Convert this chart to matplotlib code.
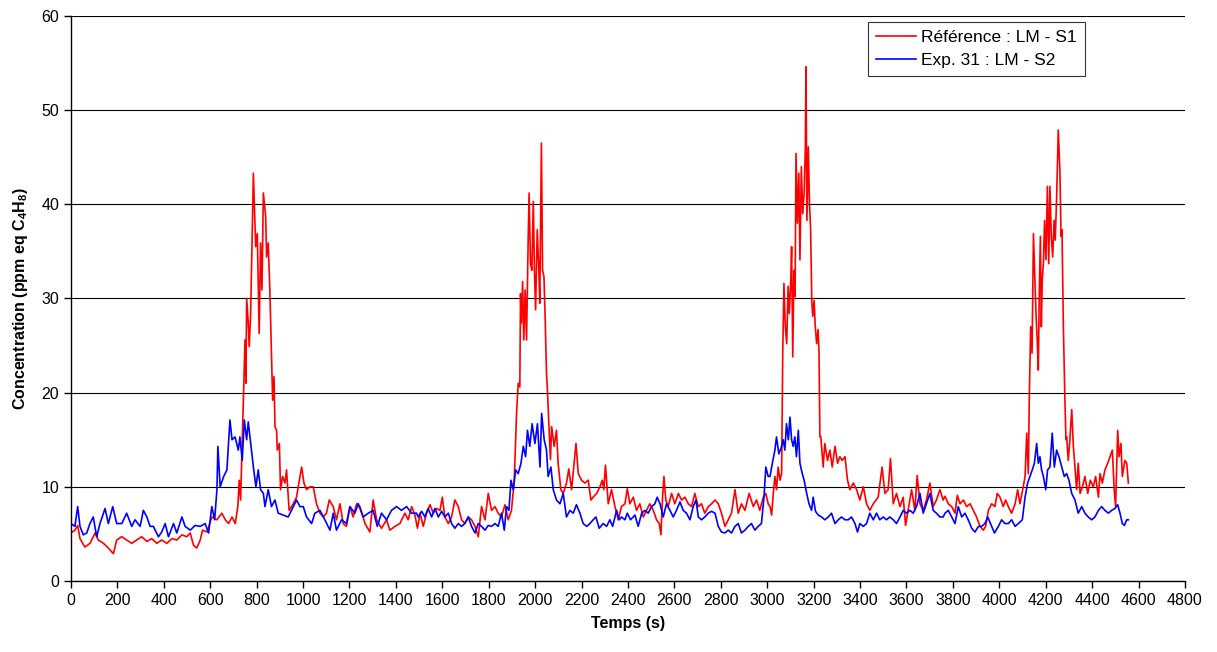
import matplotlib
matplotlib.use("Agg")
import matplotlib.pyplot as plt
import numpy as np

plt.rcParams['font.family'] = ['Liberation Sans', 'DejaVu Sans']
plt.rcParams['mathtext.fontset'] = 'custom'
plt.rcParams['mathtext.bf'] = 'Liberation Sans:bold'
plt.rcParams['mathtext.rm'] = 'Liberation Sans:bold'
plt.rcParams['mathtext.default'] = 'bf'

# Référence : LM - S1 (red), time in s / concentration
red_t = [0, 17, 29, 39, 60, 82, 104, 118, 140, 161, 183, 197, 219, 240, 262, 283, 305, 327, 348, 370,
         391, 413, 435, 456, 478, 499, 514, 528, 542, 557, 567, 586, 607, 629, 650, 665, 679, 694, 708, 719,
         725, 731, 743, 750, 754, 757, 764, 768, 774, 780, 786, 796, 803, 811, 817, 823, 829, 839, 843, 850,
         857, 865, 869, 875, 879, 886, 889, 898, 903, 912, 922, 929, 940, 958, 972, 984, 994, 1004, 1015, 1030,
         1044, 1058, 1073, 1087, 1101, 1113, 1130, 1144, 1159, 1173, 1187, 1202, 1216, 1231, 1245, 1267, 1288, 1302, 1317, 1338,
         1360, 1374, 1396, 1417, 1439, 1453, 1468, 1482, 1493, 1504, 1518, 1532, 1547, 1561, 1575, 1590, 1600, 1611, 1626, 1640,
         1654, 1669, 1683, 1697, 1712, 1726, 1741, 1755, 1769, 1784, 1798, 1812, 1827, 1841, 1855, 1870, 1884, 1898, 1910, 1920,
         1927, 1934, 1937, 1941, 1946, 1951, 1957, 1963, 1970, 1974, 1980, 1986, 1992, 1997, 2002, 2009, 2015, 2020, 2027, 2032,
         2038, 2043, 2049, 2053, 2059, 2066, 2071, 2082, 2092, 2099, 2111, 2121, 2135, 2145, 2157, 2168, 2176, 2186, 2200, 2214,
         2229, 2240, 2250, 2265, 2279, 2289, 2296, 2303, 2315, 2329, 2344, 2358, 2372, 2387, 2397, 2408, 2423, 2437, 2451, 2466,
         2480, 2494, 2509, 2523, 2535, 2542, 2549, 2555, 2563, 2573, 2588, 2602, 2617, 2631, 2645, 2660, 2674, 2688, 2703, 2717,
         2731, 2746, 2760, 2775, 2789, 2803, 2818, 2832, 2846, 2861, 2875, 2889, 2904, 2922, 2940, 2954, 2968, 2983, 2994, 3004,
         3012, 3019, 3026, 3033, 3040, 3047, 3055, 3062, 3067, 3072, 3078, 3084, 3090, 3095, 3101, 3105, 3110, 3115, 3120, 3124,
         3130, 3136, 3141, 3147, 3153, 3159, 3164, 3167, 3171, 3177, 3182, 3187, 3192, 3196, 3202, 3207, 3213, 3219, 3223, 3227,
         3231, 3241, 3248, 3260, 3270, 3280, 3292, 3303, 3313, 3323, 3335, 3346, 3356, 3371, 3385, 3399, 3414, 3428, 3442, 3457,
         3478, 3495, 3507, 3521, 3531, 3543, 3557, 3572, 3586, 3596, 3607, 3622, 3636, 3646, 3658, 3672, 3686, 3701, 3715, 3729,
         3744, 3758, 3766, 3780, 3795, 3809, 3819, 3831, 3845, 3859, 3874, 3888, 3902, 3917, 3931, 3941, 3953, 3967, 3981, 3991,
         4003, 4017, 4027, 4039, 4053, 4068, 4079, 4089, 4103, 4111, 4118, 4125, 4129, 4135, 4141, 4147, 4152, 4158, 4164, 4168,
         4172, 4177, 4181, 4185, 4190, 4195, 4201, 4207, 4213, 4218, 4224, 4230, 4236, 4241, 4247, 4254, 4261, 4266, 4270, 4276,
         4282, 4287, 4290, 4297, 4304, 4312, 4319, 4326, 4333, 4340, 4348, 4358, 4369, 4381, 4392, 4405, 4415, 4427, 4434, 4444,
         4455, 4467, 4477, 4487, 4495, 4501, 4510, 4516, 4524, 4530, 4541, 4549, 4556]
red_v = [5.1, 5.4, 5.9, 4.5, 3.6, 4.0, 5.1, 4.35, 4.0, 3.5, 2.9, 4.35, 4.7, 4.35, 4.0, 4.35, 4.7, 4.2, 4.5, 4.0,
         4.35, 4.0, 4.5, 4.35, 4.9, 4.7, 5.1, 3.8, 3.5, 4.35, 5.4, 5.2, 6.8, 6.5, 7.2, 6.5, 6.1, 6.8, 6.1, 7.9,
         10.7, 8.6, 19.2, 25.6, 21.0, 30.0, 27.4, 24.9, 28.1, 35.9, 43.3, 35.5, 36.9, 26.3, 35.9, 30.9, 41.2, 38.7, 34.4, 35.9,
         30.9, 22.8, 19.2, 21.7, 16.4, 16.0, 13.9, 14.6, 9.7, 11.1, 10.4, 11.8, 7.5, 8.2, 8.9, 10.7, 12.1, 10.4, 9.7, 10.0,
         10.0, 8.2, 7.2, 6.8, 7.2, 8.6, 7.9, 6.5, 8.2, 6.1, 5.8, 7.9, 6.8, 8.2, 7.9, 6.1, 5.2, 8.6, 6.5, 5.6,
         6.5, 5.4, 5.8, 6.1, 7.2, 6.5, 7.9, 7.0, 5.6, 7.2, 5.8, 7.2, 8.1, 7.2, 7.7, 7.5, 8.9, 6.8, 6.1, 6.8,
         8.6, 7.9, 6.5, 6.1, 6.8, 6.5, 5.8, 4.7, 7.9, 6.5, 9.3, 7.5, 7.9, 7.2, 6.8, 8.1, 6.5, 7.5, 10.7, 17.8,
         21.0, 20.6, 30.5, 27.4, 31.8, 25.6, 30.9, 25.6, 36.2, 41.2, 33.7, 33.0, 40.3, 33.0, 28.8, 37.3, 33.7, 29.5, 46.5, 33.0,
         32.3, 28.1, 22.0, 20.3, 16.7, 12.9, 16.4, 14.3, 16.0, 12.5, 9.7, 9.3, 10.4, 11.9, 9.7, 12.5, 14.6, 11.4, 10.7, 10.4,
         10.7, 8.6, 8.9, 9.3, 10.0, 10.7, 9.7, 12.3, 8.2, 9.7, 7.9, 6.5, 7.9, 8.2, 9.8, 8.2, 8.9, 7.5, 8.2, 6.8,
         7.5, 8.2, 7.5, 6.5, 6.1, 4.9, 8.9, 11.1, 8.6, 7.9, 9.3, 8.2, 9.3, 8.6, 8.9, 8.2, 7.9, 9.3, 7.9, 8.2,
         7.2, 7.9, 8.2, 8.6, 8.2, 7.2, 5.8, 6.5, 7.2, 9.7, 7.2, 8.2, 7.5, 9.3, 7.9, 8.6, 7.5, 8.9, 9.3, 8.2,
         7.9, 7.0, 9.3, 11.1, 9.7, 12.1, 10.7, 11.4, 24.5, 31.6, 27.0, 25.2, 31.3, 28.4, 31.6, 35.5, 23.8, 33.0, 30.2, 45.4,
         38.0, 43.3, 34.1, 44.0, 39.0, 41.2, 45.8, 54.6, 38.3, 46.1, 40.1, 37.3, 29.8, 28.1, 29.8, 27.0, 25.2, 26.7, 24.5, 15.3,
         15.3, 12.1, 14.6, 12.8, 13.9, 12.1, 14.3, 12.5, 13.2, 12.8, 13.2, 10.7, 9.7, 10.4, 9.7, 8.6, 10.0, 8.2, 7.5, 8.2,
         8.9, 12.1, 9.3, 9.7, 13.0, 8.2, 9.3, 7.9, 8.9, 5.9, 7.5, 9.7, 7.5, 11.2, 8.2, 7.5, 8.6, 10.4, 7.9, 8.6,
         9.7, 8.6, 9.0, 8.2, 7.9, 7.2, 9.1, 8.2, 8.6, 7.9, 8.2, 7.5, 6.8, 5.8, 5.4, 5.8, 7.5, 8.2, 7.9, 9.3,
         8.9, 7.9, 8.6, 7.9, 7.2, 8.2, 9.7, 8.2, 10.0, 11.1, 15.7, 11.4, 19.2, 27.0, 24.2, 36.9, 33.0, 28.4, 25.2, 22.4,
         30.5, 36.6, 27.0, 32.0, 33.7, 38.3, 34.1, 41.9, 33.7, 41.9, 36.6, 34.4, 38.3, 36.2, 40.8, 47.9, 43.6, 36.6, 37.3, 27.0,
         19.9, 15.0, 15.3, 12.8, 15.0, 18.2, 14.3, 12.1, 9.7, 12.5, 9.3, 10.0, 11.1, 9.3, 10.7, 10.0, 11.1, 8.9, 11.4, 10.4,
         11.8, 12.5, 13.2, 13.9, 9.7, 7.9, 16.0, 13.2, 14.6, 11.1, 12.8, 12.5, 10.4]

# Exp. 31 : LM - S2 (blue)
blue_t = [0, 17, 29, 39, 53, 68, 82, 96, 111, 125, 147, 161, 180, 197, 219, 240, 262, 276, 298, 312,
          327, 341, 355, 377, 391, 406, 420, 442, 456, 478, 492, 514, 535, 557, 578, 593, 607, 619, 629, 633,
          643, 658, 672, 685, 694, 707, 721, 728, 738, 747, 757, 764, 776, 786, 797, 807, 817, 829, 836, 850,
          864, 879, 893, 915, 936, 958, 972, 987, 1001, 1015, 1037, 1051, 1073, 1094, 1116, 1130, 1144, 1166, 1187, 1202,
          1223, 1238, 1259, 1281, 1302, 1320, 1338, 1360, 1381, 1403, 1424, 1446, 1468, 1489, 1496, 1511, 1525, 1539, 1554, 1568,
          1583, 1597, 1611, 1626, 1640, 1654, 1669, 1683, 1697, 1712, 1726, 1741, 1755, 1769, 1784, 1798, 1812, 1827, 1841, 1855,
          1867, 1877, 1887, 1896, 1906, 1916, 1927, 1939, 1949, 1959, 1967, 1977, 1987, 1999, 2010, 2021, 2028, 2039, 2049, 2056,
          2068, 2078, 2092, 2107, 2121, 2135, 2150, 2164, 2178, 2193, 2207, 2222, 2236, 2250, 2262, 2276, 2293, 2308, 2322, 2334,
          2351, 2362, 2372, 2387, 2397, 2411, 2430, 2444, 2459, 2473, 2487, 2502, 2516, 2526, 2538, 2552, 2566, 2581, 2595, 2609,
          2624, 2638, 2652, 2667, 2681, 2693, 2703, 2717, 2731, 2746, 2760, 2775, 2789, 2803, 2818, 2832, 2846, 2861, 2875, 2889,
          2904, 2918, 2932, 2947, 2961, 2975, 2986, 2994, 3004, 3012, 3022, 3033, 3040, 3050, 3062, 3069, 3076, 3083, 3091, 3098,
          3105, 3112, 3119, 3126, 3134, 3141, 3151, 3159, 3170, 3180, 3191, 3198, 3208, 3220, 3234, 3248, 3263, 3277, 3292, 3306,
          3320, 3335, 3349, 3363, 3378, 3389, 3399, 3414, 3428, 3442, 3457, 3471, 3485, 3500, 3514, 3528, 3543, 3557, 3572, 3586,
          3600, 3615, 3629, 3643, 3658, 3672, 3686, 3701, 3715, 3729, 3744, 3758, 3766, 3780, 3795, 3809, 3823, 3838, 3852, 3866,
          3881, 3895, 3910, 3924, 3938, 3950, 3967, 3979, 3996, 4010, 4024, 4039, 4053, 4068, 4082, 4099, 4111, 4122, 4132, 4142,
          4151, 4161, 4168, 4175, 4182, 4190, 4200, 4208, 4218, 4228, 4237, 4247, 4257, 4269, 4280, 4290, 4300, 4312, 4326, 4340,
          4355, 4369, 4383, 4398, 4412, 4427, 4441, 4455, 4470, 4484, 4498, 4510, 4520, 4530, 4539, 4549, 4556]
blue_v = [6.1, 5.8, 7.9, 5.8, 4.9, 5.1, 6.1, 6.8, 4.7, 6.1, 7.7, 6.1, 7.9, 6.1, 6.1, 7.2, 5.8, 6.5, 5.8, 7.5,
          6.8, 5.8, 5.8, 4.7, 5.2, 6.1, 4.7, 6.1, 5.1, 6.8, 5.8, 5.4, 5.9, 5.8, 6.1, 5.1, 7.9, 6.5, 9.7, 14.3,
          10.0, 11.1, 11.8, 17.1, 15.0, 15.3, 13.9, 15.3, 12.8, 17.1, 15.0, 16.9, 14.3, 12.1, 10.0, 11.8, 9.7, 9.3, 7.9, 9.7,
          7.9, 8.6, 7.2, 7.0, 6.8, 7.9, 8.6, 7.9, 7.9, 6.8, 6.1, 7.2, 7.5, 6.5, 5.4, 7.2, 5.4, 6.5, 6.1, 7.9,
          7.2, 8.2, 6.8, 7.2, 7.5, 5.8, 7.2, 6.5, 7.5, 7.9, 7.5, 7.9, 7.2, 7.2, 6.8, 7.4, 6.8, 7.7, 6.8, 7.7,
          6.8, 7.4, 6.8, 7.2, 6.1, 5.6, 6.1, 5.8, 6.1, 6.8, 5.8, 5.1, 6.1, 5.8, 5.4, 5.9, 5.8, 6.1, 5.8, 7.2,
          5.4, 7.9, 7.5, 10.7, 9.7, 11.8, 11.4, 12.5, 14.3, 13.2, 16.0, 14.3, 16.7, 14.6, 16.7, 12.1, 17.8, 15.0, 13.9, 11.1,
          12.1, 9.7, 8.6, 8.2, 9.3, 6.8, 7.5, 7.2, 8.1, 7.2, 6.1, 5.8, 6.1, 6.5, 6.8, 5.6, 6.1, 5.8, 6.5, 5.8,
          7.5, 6.5, 6.8, 6.5, 7.2, 6.5, 7.0, 5.8, 7.2, 7.5, 7.2, 7.9, 8.2, 8.9, 8.2, 6.8, 8.2, 7.5, 6.8, 7.5,
          8.4, 7.5, 7.2, 6.5, 7.9, 8.6, 6.8, 6.5, 6.8, 7.2, 7.4, 7.2, 5.8, 5.2, 5.1, 5.4, 5.1, 5.8, 6.1, 5.1,
          5.4, 5.8, 6.1, 5.4, 5.8, 6.1, 8.9, 12.1, 11.1, 11.1, 12.5, 13.9, 15.3, 13.5, 14.3, 15.0, 13.9, 16.7, 15.0, 17.4,
          15.0, 14.3, 15.3, 13.2, 16.0, 12.5, 11.4, 10.7, 9.3, 8.2, 7.5, 8.9, 7.4, 7.0, 6.8, 6.5, 6.8, 7.2, 6.1, 6.5,
          6.8, 6.5, 6.5, 6.8, 6.1, 5.2, 6.1, 5.8, 6.1, 7.2, 6.5, 7.2, 6.5, 6.8, 6.5, 6.8, 6.5, 6.1, 6.8, 7.5,
          7.2, 7.5, 7.2, 7.9, 9.3, 7.2, 8.2, 9.3, 7.5, 7.2, 6.8, 6.8, 7.2, 7.5, 6.8, 6.1, 7.9, 6.8, 7.2, 6.5,
          5.6, 5.2, 5.8, 5.8, 6.1, 6.8, 5.8, 5.1, 5.8, 6.5, 6.1, 6.1, 6.5, 5.8, 6.1, 6.5, 8.9, 10.4, 11.1, 11.8,
          12.5, 14.6, 12.5, 13.2, 11.8, 11.1, 9.7, 11.8, 12.1, 15.7, 12.1, 13.9, 13.2, 12.1, 11.1, 11.4, 10.7, 9.3, 8.6, 7.2,
          7.9, 7.2, 6.8, 6.5, 6.8, 7.5, 7.9, 7.5, 7.2, 7.5, 7.7, 8.1, 7.2, 6.1, 5.9, 6.5, 6.5]

fig = plt.figure(figsize=(12.17, 6.52), dpi=100)
ax = fig.add_axes([0.0583, 0.1089, 0.9154, 0.8666])

ax.plot(red_t, red_v, color='#ff0000', lw=1.2, label='Référence : LM - S1')
ax.plot(blue_t, blue_v, color='#0000ff', lw=1.2, label='Exp. 31 : LM - S2')

ax.set_xlim(0, 4800)
ax.set_ylim(0, 60)
ax.set_xticks(np.arange(0, 4801, 200))
ax.set_yticks(np.arange(0, 61, 10))
ax.yaxis.grid(True, color='black', lw=0.8)
ax.set_axisbelow(True)
for s in ['top', 'right']:
    ax.spines[s].set_visible(False)
for s in ['left', 'bottom']:
    ax.spines[s].set_linewidth(1.0)
ax.tick_params(labelsize=11.5, direction='out', length=5, width=1)

ax.set_xlabel('Temps (s)', fontsize=11.5, fontweight='bold', labelpad=6)
ax.set_ylabel(r'Concentration (ppm eq C$_4$H$_8$)', fontsize=11.5, fontweight='bold', labelpad=8)

leg = ax.legend(loc='upper right', bbox_to_anchor=(0.91, 0.99), borderaxespad=0, fancybox=False,
                edgecolor='black', fontsize=12.5, handlelength=2.3, borderpad=0.45,
                labelspacing=0.5, handletextpad=0.3)
leg.get_frame().set_linewidth(0.8)

fig.savefig('out.png', dpi=100)
